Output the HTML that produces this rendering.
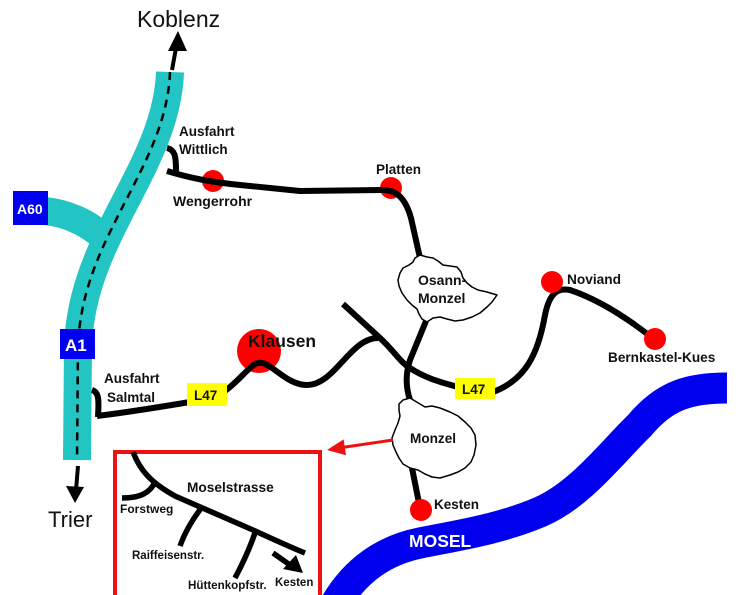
<!DOCTYPE html>
<html><head><meta charset="utf-8"><style>
html,body{margin:0;padding:0;background:#fff;}
svg{display:block;}
text{font-family:"Liberation Sans",Arial,sans-serif;font-weight:bold;fill:#111;}
</style></head><body>
<svg width="750" height="595" viewBox="0 0 750 595" xmlns="http://www.w3.org/2000/svg">
<rect width="750" height="595" fill="#fff"/>
<!-- River -->
<path d="M727,388 C690,388 665,395 640,425 C612,452 580,495 540,512 C500,529 460,535 420,543 C385,550 355,570 335,605" fill="none" stroke="#0000ee" stroke-width="31"/>
<text x="409" y="547" font-size="17.5" style="fill:#fff">MOSEL</text>

<!-- A1 motorway -->
<path d="M45,211 C65,213 88,222 104,238" fill="none" stroke="#22c4c4" stroke-width="28"/>
<path d="M170,72 C168,130 135,180 112,228 C95,262 80,300 78,345 L77,460" fill="none" stroke="#22c4c4" stroke-width="28"/>
<path d="M170,72 C168,130 135,180 112,228 C95,262 80,300 78,345 L77,460" fill="none" stroke="#000" stroke-width="2.5" stroke-dasharray="8 6"/>
<rect x="13" y="191" width="35" height="34" fill="#0000ee"/>
<text x="17" y="214" font-size="14" style="fill:#fff">A60</text>
<rect x="60" y="329" width="35" height="30" fill="#0000ee"/>
<text x="65" y="351" font-size="17" style="fill:#fff">A1</text>

<!-- Koblenz / Trier arrows -->
<line x1="172" y1="70" x2="176" y2="48" stroke="#000" stroke-width="4"/>
<polygon points="178,31 168,51 187,51" fill="#000"/>
<text x="137" y="27" font-size="23" style="font-weight:normal">Koblenz</text>
<line x1="78" y1="466" x2="76" y2="490" stroke="#000" stroke-width="4"/>
<polygon points="75,503 66,486 84,487" fill="#000"/>
<text x="48" y="527" font-size="22" style="font-weight:normal">Trier</text>

<!-- dots under roads -->
<circle cx="213" cy="181" r="11" fill="#ff0000"/>
<circle cx="391" cy="188" r="11" fill="#ff0000"/>
<circle cx="259" cy="351" r="22" fill="#ff0000"/>

<!-- Roads -->
<g fill="none" stroke="#000" stroke-width="6" stroke-linecap="butt" stroke-linejoin="round">
<path d="M167,148 C175,150 176,156 176,171"/>
<path d="M167,171 C190,178 210,182 240,185 L300,191 L385,190 C398,191 406,200 411,218 L420,258"/>
<path d="M92,390 C99,392 99,400 98,417"/>
<path d="M97,416 C130,412 160,407 190,402"/>
<path d="M225,391 C240,380 250,365 258,363 C270,360 285,385 307,385 C335,385 350,338 378,338"/>
<path d="M343,304 L380,338 C395,352 400,362 410,368 C425,378 440,382 458,387"/>
<path d="M426,321 L410,360 C405,375 406,388 410,400"/>
<path d="M493,392 C525,380 538,355 545,315 C550,290 560,288 570,290 C600,300 630,320 655,340"/>
<path d="M412,468 L420,508"/>
</g>

<!-- Osann-Monzel blob -->
<path d="M415,258 L420,255 L427,257 L433,258 L438,261 L443,265 L450,266 L457,267 L461,272 L463,278 L467,283 L472,287 L478,290 L487,292 L497,295 L492,302 L487,307 L480,313 L472,317 L463,320 L455,321 L447,319 L440,317 L433,318 L427,322 L422,319 L419,314 L417,309 L412,305 L407,300 L402,293 L399,286 L398,280 L400,273 L403,268 L409,265 L413,262 Z" fill="#fff" stroke="#000" stroke-width="1.5" stroke-linejoin="round"/>
<text x="418" y="285" font-size="14">Osann-</text>
<text x="418" y="303" font-size="14">Monzel</text>

<!-- Monzel blob -->
<path d="M399,404 L403,400 L410,398 L415,401 L420,404 L425,407 L432,406 L440,408 L450,412 L458,416 L465,422 L471,428 L475,435 L476,445 L474,455 L471,462 L465,468 L458,472 L450,475 L440,478 L432,477 L425,474 L418,470 L410,468 L403,464 L399,458 L396,452 L393,445 L392,438 L395,430 L398,423 L400,416 L399,410 Z" fill="#fff" stroke="#000" stroke-width="1.5" stroke-linejoin="round"/>
<text x="410" y="443" font-size="13.6">Monzel</text>

<!-- dots on top -->
<circle cx="552" cy="282" r="11" fill="#ff0000"/>
<circle cx="655" cy="339" r="11" fill="#ff0000"/>
<circle cx="421" cy="510" r="11" fill="#ff0000"/>

<!-- L47 boxes -->
<rect x="187" y="383" width="40" height="23" fill="#ffff00"/>
<text x="194" y="400" font-size="13.5">L47</text>
<rect x="455" y="378" width="40" height="21" fill="#ffff00"/>
<text x="462" y="394" font-size="13.5">L47</text>

<!-- Labels -->
<text x="179" y="136" font-size="13.5">Ausfahrt</text>
<text x="179" y="154" font-size="13.5">Wittlich</text>
<text x="173" y="206" font-size="14">Wengerrohr</text>
<text x="376" y="174" font-size="13.5">Platten</text>
<text x="104" y="383" font-size="13.5">Ausfahrt</text>
<text x="107" y="402" font-size="13.5">Salmtal</text>
<text x="248" y="347" font-size="17.5">Klausen</text>
<text x="567" y="284" font-size="13.7">Noviand</text>
<text x="608" y="362" font-size="13.6">Bernkastel-Kues</text>
<text x="434" y="509" font-size="13.5">Kesten</text>

<!-- Red arrow -->
<line x1="393" y1="440" x2="342" y2="447.5" stroke="#ee1111" stroke-width="3"/>
<polygon points="327,450 343.6,439.4 346,455.2" fill="#ee1111"/>

<!-- Inset box -->
<rect x="115" y="452" width="205" height="160" fill="none" stroke="#ee1111" stroke-width="4"/>
<g fill="none" stroke="#000" stroke-width="5.5">
<path d="M133,452 C140,470 150,482 175,496 L253,530 C275,540 290,547 305,553"/>
<path d="M155,482 C150,493 140,498 122,498"/>
<path d="M202,507 C192,520 185,532 180,546"/>
<path d="M256,530 C250,548 242,565 235,578"/>
<path d="M273,553 L290,565"/>
</g>
<polygon points="303,573 283,569 296,555" fill="#000"/>
<text x="187" y="492" font-size="13.7">Moselstrasse</text>
<text x="120" y="513" font-size="12">Forstweg</text>
<text x="132" y="559" font-size="11.5">Raiffeisenstr.</text>
<text x="188" y="589" font-size="11.6">Hüttenkopfstr.</text>
<text x="275" y="586" font-size="11.5">Kesten</text>
</svg>
</body></html>
